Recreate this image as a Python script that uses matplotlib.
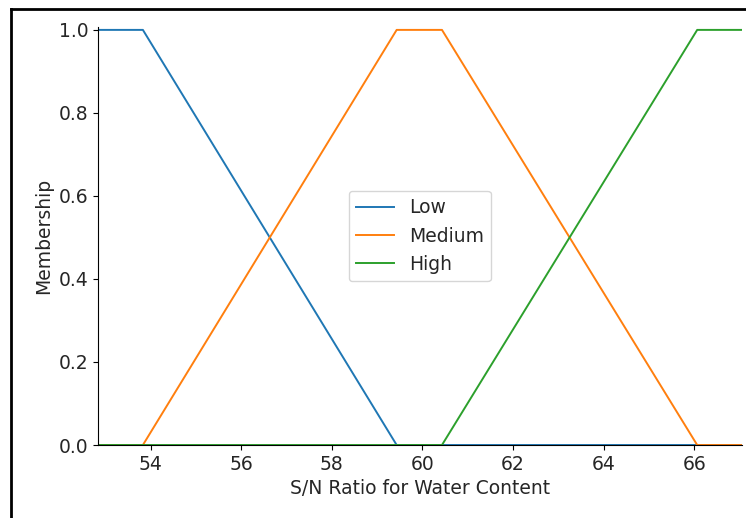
import matplotlib
matplotlib.use('Agg')
import matplotlib.pyplot as plt
from matplotlib.lines import Line2D
import numpy as np

x_min, x_max = 52.84, 67.05
labels = ['Low', 'Medium', 'High']
low_pts = [52.84, 52.84, 53.83, 59.43]
medium_pts = [53.83, 59.43, 60.43, 66.06]
high_pts = [60.43, 66.06, 67.05, 67.05]


def trapmf(x, p):
    a, b, c, d = p
    y = np.zeros_like(x)
    up = (x >= a) & (x < b)
    y[up] = (x[up] - a) / (b - a)
    y[(x >= b) & (x <= c)] = 1.0
    down = (x > c) & (x <= d)
    y[down] = (d - x[down]) / (d - c)
    return y


xs = np.linspace(x_min, x_max, 2000)
xs = np.unique(np.concatenate([xs, low_pts, medium_pts, high_pts]))

plt.rcParams['text.color'] = '#262626'
plt.rcParams['axes.labelcolor'] = '#262626'
plt.rcParams['xtick.labelcolor'] = '#262626'
plt.rcParams['ytick.labelcolor'] = '#262626'

fig = plt.figure(figsize=(7.46, 5.18), dpi=100)
ax = fig.add_axes([0.1314, 0.1409, 0.8632, 0.807])

for pts, lab in zip([low_pts, medium_pts, high_pts], labels):
    ax.plot(xs, trapmf(xs, pts), linewidth=1.4, label=lab)

ax.set_xlim(x_min, x_max)
ax.set_ylim(0, 1.007)
ax.set_yticks([0.0, 0.2, 0.4, 0.6, 0.8, 1.0])
ax.set_xticks([54, 56, 58, 60, 62, 64, 66])
ax.spines['top'].set_visible(False)
ax.spines['right'].set_visible(False)
ax.tick_params(labelsize=13.5)
ax.set_xlabel('S/N Ratio for Water Content', fontsize=13.5)
ax.set_ylabel('Membership', fontsize=13.5)
ax.legend(loc='center', fontsize=13.5)

# screenshot frame
fig.add_artist(Line2D([11 / 746, 1], [1 - 9 / 518, 1 - 9 / 518], color='black', linewidth=2))
fig.add_artist(Line2D([11 / 746, 11 / 746], [0, 1 - 9 / 518], color='black', linewidth=2))

fig.savefig('out.png', dpi=100)
